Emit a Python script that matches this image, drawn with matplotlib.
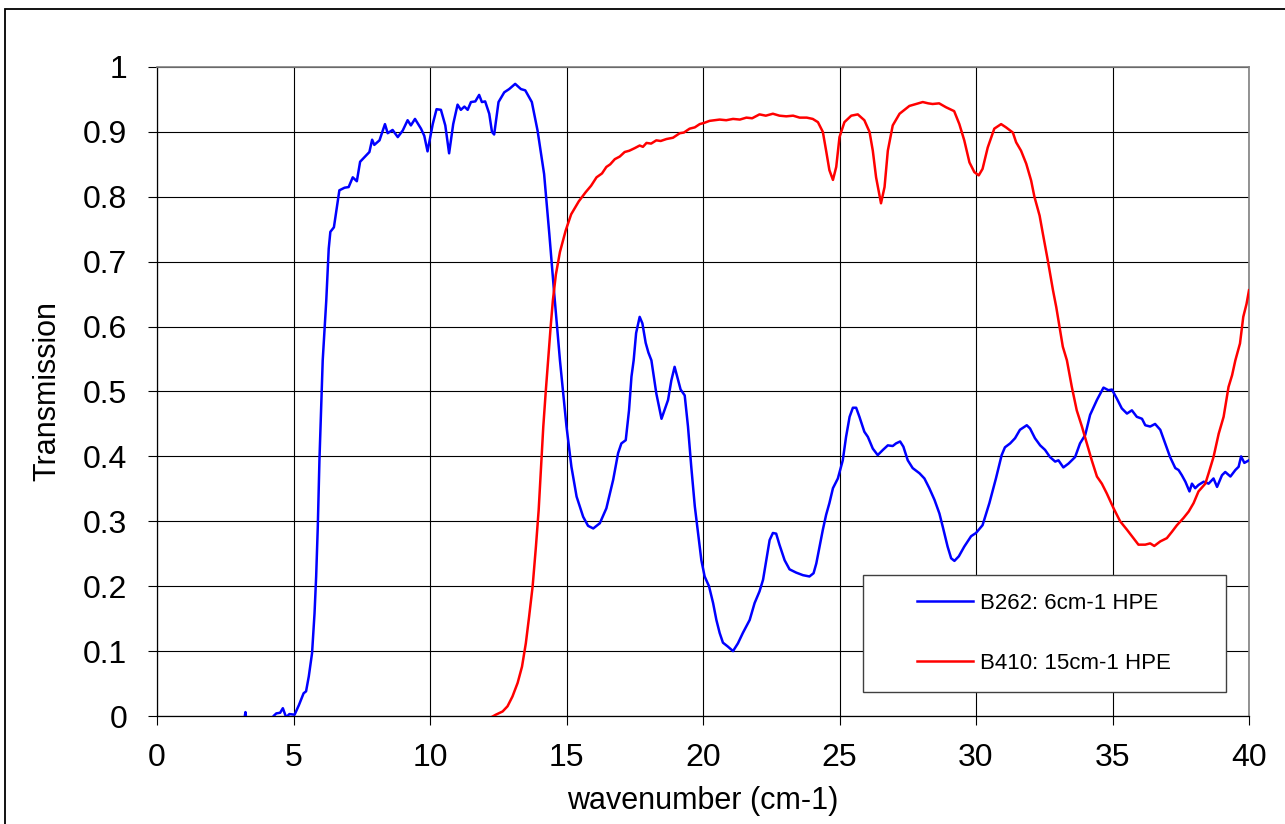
import matplotlib
matplotlib.use("Agg")
import matplotlib.pyplot as plt
from matplotlib.patches import Rectangle

plt.rcParams['font.family'] = ['Liberation Sans', 'DejaVu Sans']

# ---- data ----
b262_x = [3.0, 3.2, 3.24, 3.28, 3.5, 4.0, 4.27, 4.37, 4.51, 4.61, 4.73, 4.85, 5.04, 5.2,
          5.37, 5.46, 5.56, 5.68, 5.77, 5.83, 5.89, 5.95, 6.01, 6.07, 6.2, 6.29, 6.35,
          6.48, 6.68, 6.87, 7.02, 7.17, 7.32, 7.44, 7.6, 7.78, 7.88, 7.96, 8.15, 8.35,
          8.45, 8.63, 8.82, 9.0, 9.18, 9.3, 9.45, 9.67, 9.79, 9.91, 10.1, 10.24, 10.4,
          10.56, 10.7, 10.85, 11.01, 11.13, 11.26, 11.38, 11.5, 11.66, 11.8, 11.9, 12.02,
          12.17, 12.27, 12.35, 12.51, 12.72, 12.9, 13.12, 13.33, 13.49, 13.73, 13.94,
          14.18, 14.37, 14.55, 14.76, 15.0, 15.18, 15.37, 15.61, 15.79, 15.98, 16.22,
          16.46, 16.71, 16.89, 17.01, 17.17, 17.29, 17.38, 17.46, 17.55, 17.68, 17.78,
          17.9, 18.0, 18.11, 18.29, 18.48, 18.72, 18.84, 18.96, 19.09, 19.18, 19.33,
          19.45, 19.57, 19.7, 19.82, 19.94, 20.06, 20.22, 20.37, 20.49, 20.61, 20.73,
          20.91, 21.1, 21.28, 21.46, 21.71, 21.89, 22.07, 22.2, 22.32, 22.44, 22.56,
          22.68, 22.8, 22.99, 23.17, 23.41, 23.66, 23.9, 24.05, 24.15, 24.27, 24.39,
          24.51, 24.63, 24.76, 24.94, 25.12, 25.24, 25.37, 25.49, 25.61, 25.73, 25.91,
          26.04, 26.22, 26.4, 26.59, 26.77, 26.95, 27.07, 27.22, 27.34, 27.5, 27.68,
          27.93, 28.11, 28.29, 28.48, 28.66, 28.78, 28.96, 29.09, 29.21, 29.37, 29.57,
          29.82, 30.0, 30.24, 30.49, 30.73, 30.94, 31.06, 31.25, 31.43, 31.61, 31.86,
          31.98, 32.16, 32.35, 32.53, 32.71, 32.9, 33.02, 33.2, 33.39, 33.63, 33.81,
          34.0, 34.18, 34.43, 34.67, 34.85, 34.98, 35.16, 35.34, 35.53, 35.71, 35.89,
          36.08, 36.2, 36.38, 36.56, 36.75, 36.93, 37.11, 37.3, 37.42, 37.54, 37.67,
          37.82, 37.91, 38.03, 38.15, 38.34, 38.52, 38.7, 38.83, 39.01, 39.13, 39.32,
          39.5, 39.62, 39.71, 39.83, 40.0]
b262_y = [-0.02, -0.005, 0.006, -0.01, -0.03, -0.02, 0.0, 0.004, 0.005, 0.012, -0.002,
          0.003, 0.002, 0.017, 0.035, 0.038, 0.061, 0.097, 0.158, 0.215, 0.292, 0.394,
          0.471, 0.548, 0.64, 0.72, 0.746, 0.753, 0.81, 0.814, 0.815, 0.83, 0.824,
          0.854, 0.861, 0.869, 0.888, 0.88, 0.887, 0.912, 0.898, 0.903, 0.892, 0.902,
          0.918, 0.91, 0.92, 0.905, 0.894, 0.87, 0.912, 0.935, 0.934, 0.91, 0.867,
          0.912, 0.942, 0.934, 0.939, 0.934, 0.946, 0.947, 0.957, 0.946, 0.947, 0.928,
          0.9, 0.896, 0.946, 0.961, 0.966, 0.974, 0.966, 0.964, 0.946, 0.902, 0.835,
          0.743, 0.651, 0.548, 0.446, 0.384, 0.338, 0.307, 0.293, 0.289, 0.297, 0.32,
          0.364, 0.405, 0.42, 0.425, 0.471, 0.523, 0.548, 0.59, 0.615, 0.605, 0.575,
          0.56, 0.548, 0.497, 0.458, 0.487, 0.517, 0.538, 0.517, 0.503, 0.494, 0.446,
          0.384, 0.323, 0.282, 0.24, 0.215, 0.2, 0.174, 0.148, 0.128, 0.113, 0.107, 0.1,
          0.112, 0.128, 0.148, 0.174, 0.192, 0.21, 0.24, 0.271, 0.282, 0.281, 0.264,
          0.24, 0.226, 0.221, 0.217, 0.215, 0.22, 0.235, 0.261, 0.287, 0.31, 0.328,
          0.351, 0.366, 0.394, 0.43, 0.461, 0.475, 0.475, 0.461, 0.438, 0.43, 0.412,
          0.402, 0.41, 0.417, 0.416, 0.42, 0.423, 0.415, 0.394, 0.382, 0.374, 0.366,
          0.351, 0.333, 0.312, 0.292, 0.261, 0.243, 0.239, 0.246, 0.261, 0.277, 0.282,
          0.294, 0.328, 0.366, 0.402, 0.414, 0.42, 0.428, 0.441, 0.448, 0.443, 0.428,
          0.417, 0.41, 0.399, 0.392, 0.394, 0.383, 0.389, 0.399, 0.42, 0.433, 0.464,
          0.487, 0.506, 0.502, 0.503, 0.489, 0.474, 0.466, 0.471, 0.461, 0.458, 0.448,
          0.446, 0.45, 0.441, 0.42, 0.399, 0.382, 0.379, 0.371, 0.361, 0.346, 0.358,
          0.351, 0.356, 0.361, 0.358, 0.366, 0.353, 0.371, 0.376, 0.369, 0.379, 0.384,
          0.4, 0.39, 0.394]

b410_x = [12.2, 12.41, 12.66, 12.84, 13.02, 13.21, 13.37, 13.51, 13.63, 13.76, 13.88,
          13.98, 14.06, 14.15, 14.24, 14.33, 14.42, 14.5, 14.61, 14.76, 14.97, 15.17,
          15.45, 15.7, 15.9, 16.1, 16.3, 16.46, 16.6, 16.77, 16.95, 17.13, 17.3, 17.5,
          17.68, 17.8, 17.93, 18.1, 18.29, 18.45, 18.66, 18.9, 19.15, 19.3, 19.51,
          19.7, 19.88, 20.05, 20.24, 20.61, 20.85, 21.1, 21.35, 21.59, 21.8, 22.07,
          22.3, 22.56, 22.8, 23.05, 23.3, 23.54, 23.8, 24.02, 24.21, 24.39, 24.51,
          24.63, 24.76, 24.88, 25.0, 25.18, 25.43, 25.67, 25.91, 26.1, 26.22, 26.34,
          26.52, 26.65, 26.77, 26.95, 27.2, 27.56, 27.8, 28.05, 28.25, 28.41, 28.65,
          28.9, 29.2, 29.39, 29.57, 29.76, 29.94, 30.1, 30.24, 30.43, 30.67, 30.92,
          31.1, 31.35, 31.47, 31.65, 31.84, 32.02, 32.14, 32.33, 32.45, 32.63, 32.82,
          32.94, 33.06, 33.18, 33.33, 33.51, 33.69, 33.88, 34.06, 34.24, 34.43, 34.61,
          34.79, 35.04, 35.28, 35.53, 35.77, 35.95, 36.2, 36.38, 36.53, 36.75, 36.99,
          37.18, 37.36, 37.6, 37.79, 37.97, 38.15, 38.4, 38.52, 38.7, 38.89, 39.07,
          39.25, 39.38, 39.5, 39.67, 39.79, 39.91, 40.0]
b410_y = [-0.003, 0.002, 0.007, 0.015, 0.03, 0.051, 0.076, 0.112, 0.153, 0.2, 0.261,
          0.317, 0.379, 0.446, 0.5, 0.55, 0.6, 0.64, 0.68, 0.715, 0.748, 0.773, 0.793,
          0.807, 0.817, 0.83, 0.836, 0.846, 0.85, 0.858, 0.862, 0.869, 0.871, 0.875,
          0.879, 0.877, 0.883, 0.882, 0.887, 0.886, 0.889, 0.891, 0.898, 0.899, 0.905,
          0.907, 0.912, 0.914, 0.917, 0.919, 0.918, 0.92, 0.919, 0.922, 0.921, 0.927,
          0.925, 0.928, 0.925, 0.924, 0.925, 0.922, 0.922, 0.92, 0.915, 0.9, 0.871,
          0.841, 0.826, 0.846, 0.892, 0.915, 0.925, 0.927, 0.918, 0.9, 0.871, 0.83,
          0.79, 0.815, 0.871, 0.91, 0.928, 0.94, 0.943, 0.946, 0.944, 0.943, 0.944,
          0.938, 0.932, 0.912, 0.887, 0.853, 0.838, 0.833, 0.843, 0.876, 0.905, 0.912,
          0.907, 0.899, 0.884, 0.871, 0.851, 0.825, 0.8, 0.771, 0.743, 0.702, 0.656,
          0.63, 0.6, 0.569, 0.548, 0.507, 0.471, 0.446, 0.42, 0.394, 0.369, 0.358,
          0.343, 0.32, 0.3, 0.287, 0.274, 0.264, 0.264, 0.266, 0.262, 0.269, 0.274,
          0.284, 0.294, 0.305, 0.315, 0.328, 0.346, 0.358, 0.374, 0.399, 0.435, 0.461,
          0.507, 0.525, 0.548, 0.574, 0.615, 0.635, 0.656]

series_labels = ["B262: 6cm-1 HPE", "B410: 15cm-1 HPE"]
x_ticks = [0, 5, 10, 15, 20, 25, 30, 35, 40]
y_ticks = [0, 0.1, 0.2, 0.3, 0.4, 0.5, 0.6, 0.7, 0.8, 0.9, 1]
y_ticklabels = ["0", "0.1", "0.2", "0.3", "0.4", "0.5", "0.6", "0.7", "0.8", "0.9", "1"]

# ---- figure ----
W, H = 1285, 824
fig = plt.figure(figsize=(W / 100, H / 100), dpi=100)
fig.patch.set_facecolor("white")

L, R, T, B = 157, 1249, 67, 716
ax = fig.add_axes([L / W, 1 - B / H, (R - L) / W, (B - T) / H])

ax.plot(b262_x, b262_y, color="#0000ff", lw=1.8, label=series_labels[0], zorder=3)
ax.plot(b410_x, b410_y, color="#ff0000", lw=1.8, label=series_labels[1], zorder=3)

ax.set_xlim(0, 40)
ax.set_ylim(0, 1)
ax.set_xticks(x_ticks)
ax.set_xticklabels([str(t) for t in x_ticks])
ax.set_yticks(y_ticks)
ax.set_yticklabels(y_ticklabels)
ax.grid(True, color="black", lw=0.8, zorder=1)
ax.set_axisbelow(True)

ax.tick_params(axis="both", direction="out", length=6.5, width=0.8, color="black",
               labelsize=23)
ax.tick_params(axis="y", pad=15)
ax.tick_params(axis="x", pad=13)

for s in ["left", "bottom"]:
    ax.spines[s].set_color("black")
    ax.spines[s].set_linewidth(0.9)
for s in ["top", "right"]:
    ax.spines[s].set_color("#808080")
    ax.spines[s].set_linewidth(1.2)

ax.set_xlabel("wavenumber (cm-1)", fontsize=22)
ax.set_ylabel("Transmission", fontsize=22)
ax.xaxis.set_label_coords(0.5, -0.108)
ax.yaxis.set_label_coords(-0.087, 0.5)

# legend box
lx0, ly0, lx1, ly1 = 863, 575, 1226, 692
rect = Rectangle(((lx0 - L) / (R - L), (B - ly1) / (B - T)),
                 (lx1 - lx0) / (R - L), (ly1 - ly0) / (B - T),
                 transform=ax.transAxes, facecolor="white", edgecolor="#404040",
                 lw=1.0, zorder=4)
ax.add_patch(rect)
leg = ax.legend(loc="center",
                bbox_to_anchor=((1044 - L) / (R - L), (B - 633.5) / (B - T)),
                frameon=False, fontsize=16, handlelength=2.5, handletextpad=0.3,
                labelspacing=1.75)
leg.set_zorder(5)

# outer chart border
border = Rectangle((5 / W, -0.2), 1.5, (H - 9) / H + 0.2, transform=fig.transFigure,
                   fill=False, edgecolor="black", lw=1.3)
fig.patches.append(border)

fig.savefig("out.png", dpi=100)
